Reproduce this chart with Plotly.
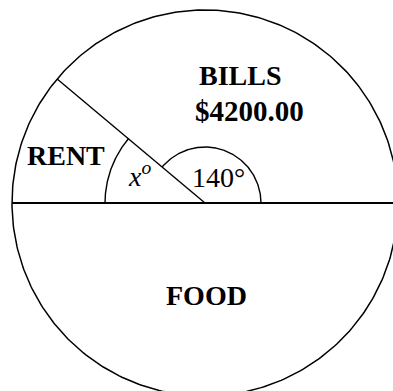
import numpy as np
import plotly.graph_objects as go

# ---- data ----
categories = ["BILLS", "RENT", "FOOD"]
angles_deg = [140, 40, 180]          # slice angles (RENT is x = 40)
bills_amount = "$4200.00"
angle_labels = ["140°", "<i>x</i><sup><i>o</i></sup>"]

# ---- geometry (pixel-like data units) ----
R = 193
W, H = 393, 391
cx_px, cy_px = 205, 203

bounds = np.concatenate([[0], np.cumsum(angles_deg)])  # 0,140,180,360

fig = go.Figure()
line_col = "black"

def arc(r, a0, a1, width):
    t = np.radians(np.linspace(a0, a1, 400))
    fig.add_trace(go.Scatter(x=r*np.cos(t), y=r*np.sin(t), mode="lines",
                             line=dict(color=line_col, width=width),
                             hoverinfo="skip", showlegend=False))

# outer circle
arc(R, 0, 360, 1.5)
# slice boundary radii
for b in bounds[:-1]:
    t = np.radians(b)
    w = 2 if b in (0, 180) else 1.4
    fig.add_trace(go.Scatter(x=[0, R*np.cos(t)], y=[0, R*np.sin(t)], mode="lines",
                             line=dict(color=line_col, width=w),
                             hoverinfo="skip", showlegend=False))
# angle marks
arc(56, bounds[0], bounds[1], 1.4)
arc(100, bounds[1], bounds[2], 1.4)

ann = [
    dict(x=35, y=128, text="<b>" + categories[0] + "</b>", size=28),
    dict(x=44, y=92, text="<b>" + bills_amount + "</b>", size=29),
    dict(x=-139, y=48, text="<b>" + categories[1] + "</b>", size=28),
    dict(x=1, y=-92, text="<b>" + categories[2] + "</b>", size=28),
    dict(x=13, y=26, text=angle_labels[0], size=28),
    dict(x=-66, y=29, text=angle_labels[1], size=28),
]
for a in ann:
    fig.add_annotation(x=a["x"], y=a["y"], text=a["text"], showarrow=False,
                       xref="x", yref="y",
                       font=dict(family="Liberation Serif", size=a["size"], color="black"),
                       xanchor="center", yanchor="middle")

fig.update_layout(
    width=W, height=H,
    margin=dict(l=0, r=0, t=0, b=0),
    paper_bgcolor="white", plot_bgcolor="white",
    xaxis=dict(range=[-cx_px, W - cx_px], visible=False, fixedrange=True),
    yaxis=dict(range=[-(H - cy_px), cy_px], visible=False, fixedrange=True),
    showlegend=False,
)
fig.write_html("out.html", config={"displayModeBar": False},
               post_script="document.body.style.margin='0';document.body.style.overflow='hidden';")
